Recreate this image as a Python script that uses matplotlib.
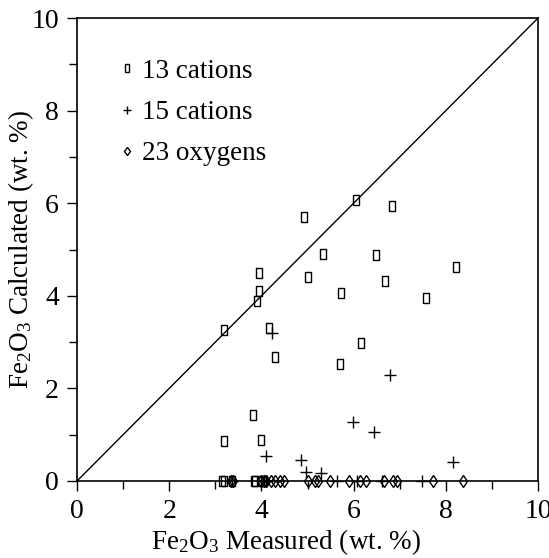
import matplotlib
matplotlib.use("Agg")
import matplotlib.pyplot as plt
from matplotlib.ticker import MultipleLocator

plt.rcParams['font.family'] = ['Liberation Serif', 'DejaVu Serif']
plt.rcParams['mathtext.fontset'] = 'custom'
plt.rcParams['mathtext.rm'] = 'Liberation Serif'
plt.rcParams['mathtext.it'] = 'Liberation Serif:italic'

# 13 cations
cat13_x = [3.19, 3.95, 3.95, 3.90, 4.16, 4.30, 4.92, 5.02, 5.34, 5.70, 5.73,
           6.05, 6.15, 6.49, 6.69, 6.83, 7.56, 8.21, 3.81, 3.19, 4.00,
           3.14, 3.18, 3.36, 3.83, 3.87, 4.00, 4.06]
cat13_y = [3.26, 4.49, 4.11, 3.89, 3.31, 2.67, 5.71, 4.40, 4.90, 2.53, 4.07,
           6.08, 2.99, 4.88, 4.33, 5.94, 3.95, 4.62, 1.42, 0.86, 0.89,
           0.0, 0.0, 0.0, 0.0, 0.0, 0.0, 0.0]
# 15 cations
cat15_x = [4.22, 4.11, 4.85, 4.97, 5.29, 5.99, 6.44, 6.78, 8.15,
           3.36, 4.05, 4.10, 5.63, 6.08, 6.61, 7.48]
cat15_y = [3.20, 0.55, 0.45, 0.20, 0.17, 1.27, 1.05, 2.29, 0.42,
           0.0, 0.0, 0.0, 0.0, 0.0, 0.0, 0.0]
# 23 oxygens
oxy23_x = [3.33, 3.38, 4.00, 4.05, 4.10, 4.20, 4.30, 4.40, 4.50, 5.01, 5.16,
           5.22, 5.49, 5.89, 6.14, 6.27, 6.66, 6.86, 6.95, 7.72, 8.37]
oxy23_y = [0.0] * len(oxy23_x)

fig = plt.figure(figsize=(5.49, 5.58), dpi=100)
ax = fig.add_axes([0.1403, 0.138, 0.8397, 0.8297])

rect = [(-0.33, -0.5), (0.33, -0.5), (0.33, 0.5), (-0.33, 0.5), (-0.33, -0.5)]
ax.plot([0, 10], [0, 10], color='black', lw=1.0, zorder=1)
ax.plot(cat13_x, cat13_y, linestyle='none', marker=rect, markersize=7,
        mfc='none', mec='black', mew=1.0, label='13 cations', clip_on=False)
ax.plot(cat15_x, cat15_y, linestyle='none', marker='+', markersize=8,
        mec='black', mew=1.0, label='15 cations', clip_on=False)
ax.plot(oxy23_x, oxy23_y, linestyle='none', marker='d', markersize=6,
        mfc='none', mec='black', mew=1.0, label='23 oxygens', clip_on=False)

ax.set_xlim(0, 10)
ax.set_ylim(0, 10)
ax.xaxis.set_major_locator(MultipleLocator(2))
ax.yaxis.set_major_locator(MultipleLocator(2))
ax.xaxis.set_minor_locator(MultipleLocator(1))
ax.yaxis.set_minor_locator(MultipleLocator(1))
ax.tick_params(which='both', direction='out', top=False, right=False,
               width=1.0, color='black')
ax.tick_params(which='major', length=7, labelsize=20, pad=6)
ax.tick_params(which='minor', length=6)
for s in ax.spines.values():
    s.set_linewidth(1.2)

ax.set_xlabel('Fe$_2$O$_3$ Measured (wt. %)', fontsize=19.5, labelpad=2)
ax.xaxis.label.set_x(0.453)
ax.set_ylabel('Fe$_2$O$_3$ Calculated (wt. %)', fontsize=19.5)
ax.yaxis.set_label_coords(-0.088, 0.5)

leg = ax.legend(loc='upper left', bbox_to_anchor=(0.07, 0.935), frameon=False,
                fontsize=19.5, handlelength=0.5, handletextpad=0.3,
                labelspacing=0.6, markerscale=0.75, borderaxespad=0)

fig.savefig('out.png', dpi=100)
